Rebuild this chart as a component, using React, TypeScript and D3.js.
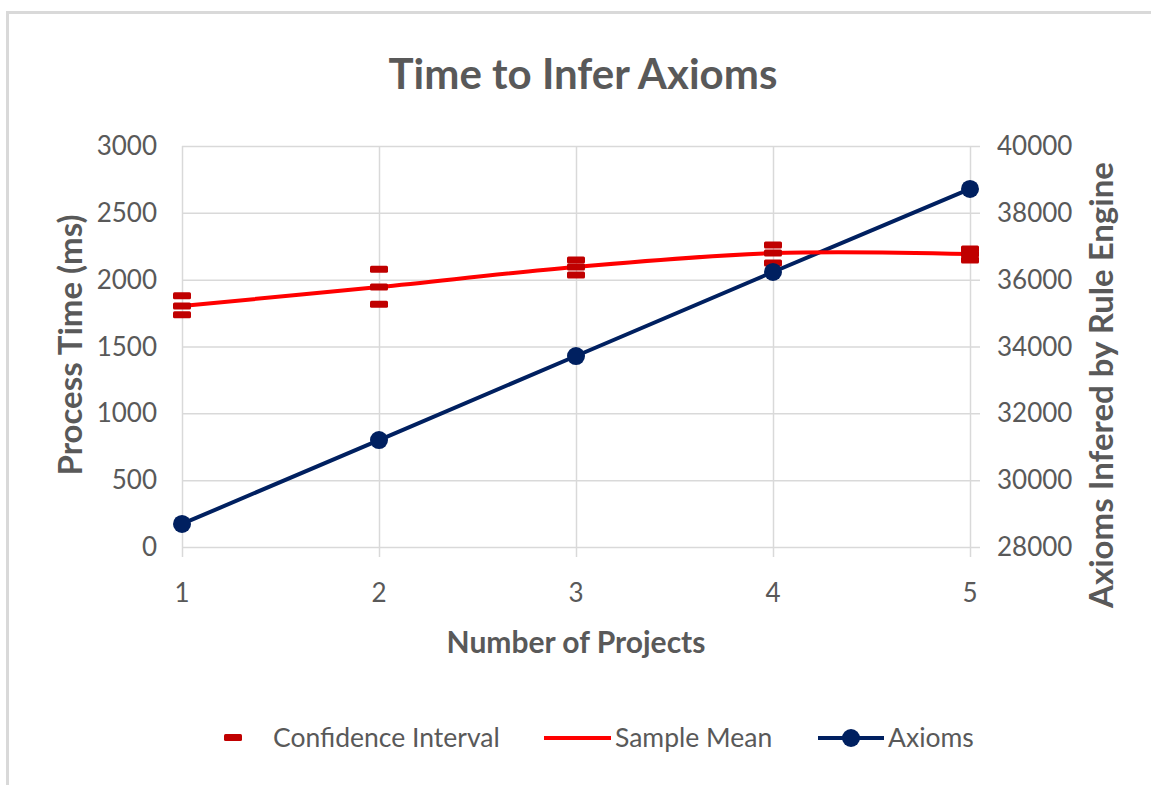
import React, { useEffect, useRef } from 'react';
import * as d3 from 'd3';

// Chart data
const projects = [1, 2, 3, 4, 5];
const sampleMean = [1803, 1945, 2095, 2199, 2192];
const ciUpper = [1880, 2077, 2147, 2259, 2229];
const ciLower = [1738, 1816, 2035, 2125, 2147];
const axioms = [28690, 31200, 33715, 36230, 38715];
const leftTicks = [0, 500, 1000, 1500, 2000, 2500, 3000];
const rightTicks = [28000, 30000, 32000, 34000, 36000, 38000, 40000];

const FONT = 'Lato, "Open Sans", sans-serif';
const GREY = '#595959';
const RED = '#ff0000';
const DARK_RED = '#c00000';
const NAVY = '#002060';

export default function App() {
  const ref = useRef<SVGSVGElement>(null);

  useEffect(() => {
    const svg = d3.select(ref.current);
    svg.selectAll('*').remove();

    const width = 1151;
    const height = 785;

    // Frame
    svg
      .append('rect')
      .attr('x', 7.5)
      .attr('y', 12.5)
      .attr('width', width + 20)
      .attr('height', height + 20)
      .attr('fill', '#fff')
      .attr('stroke', '#d9d9d9')
      .attr('stroke-width', 3);

    // Scales
    const x = d3.scaleLinear().domain([1, 5]).range([182, 970]);
    const yLeft = d3.scaleLinear().domain([0, 3000]).range([547, 146]);
    const yRight = d3.scaleLinear().domain([28000, 40000]).range([547, 146]);

    // Grid
    const grid = svg.append('g').attr('class', 'grid');
    grid
      .selectAll('.h')
      .data(leftTicks)
      .enter()
      .append('line')
      .attr('x1', x(1))
      .attr('x2', x(5) + 10)
      .attr('y1', d => yLeft(d) + 0.5)
      .attr('y2', d => yLeft(d) + 0.5)
      .attr('stroke', '#d9d9d9')
      .attr('stroke-width', 1.5);

    grid
      .selectAll('.v')
      .data(projects)
      .enter()
      .append('line')
      .attr('x1', d => x(d) + 0.5)
      .attr('x2', d => x(d) + 0.5)
      .attr('y1', yLeft(3000))
      .attr('y2', yLeft(0) + 10)
      .attr('stroke', '#d9d9d9')
      .attr('stroke-width', 1.5);

    const tickStyle = (sel: any) =>
      sel
        .style('font-family', FONT)
        .style('font-size', '26px')
        .style('fill', GREY);

    // Left axis labels
    svg
      .append('g')
      .selectAll('text')
      .data(leftTicks)
      .enter()
      .append('text')
      .attr('x', 157)
      .attr('y', d => yLeft(d) + 9)
      .attr('text-anchor', 'end')
      .call(tickStyle)
      .text(d => d);

    // Right axis labels
    svg
      .append('g')
      .selectAll('text')
      .data(rightTicks)
      .enter()
      .append('text')
      .attr('x', 997)
      .attr('y', d => yRight(d) + 9)
      .call(tickStyle)
      .text(d => d);

    // X axis labels
    svg
      .append('g')
      .selectAll('text')
      .data(projects)
      .enter()
      .append('text')
      .attr('x', d => x(d))
      .attr('y', 602)
      .attr('text-anchor', 'middle')
      .call(tickStyle)
      .text(d => d);

    // Title + axis titles
    const titleStyle = (sel: any, size: number) =>
      sel
        .attr('text-anchor', 'middle')
        .style('font-family', FONT)
        .style('font-size', `${size}px`)
        .style('font-weight', 'bold')
        .style('fill', GREY);

    svg
      .append('text')
      .attr('x', 583)
      .attr('y', 89)
      .call(titleStyle, 42)
      .text('Time to Infer Axioms');

    svg
      .append('text')
      .attr('x', 576)
      .attr('y', 653)
      .call(titleStyle, 30)
      .text('Number of Projects');

    svg
      .append('text')
      .attr('transform', 'translate(82,345) rotate(-90)')
      .call(titleStyle, 33)
      .text('Process Time (ms)');

    svg
      .append('text')
      .attr('transform', 'translate(1113,385) rotate(-90)')
      .call(titleStyle, 33)
      .text('Axioms Infered by Rule Engine');

    // Axioms line (right axis)
    const axLine = d3
      .line<number>()
      .x((d, i) => x(projects[i]))
      .y(d => yRight(d));

    svg
      .append('path')
      .datum(axioms)
      .attr('d', axLine)
      .attr('fill', 'none')
      .attr('stroke', NAVY)
      .attr('stroke-width', 4);

    // Sample mean, smoothed
    const meanLine = d3
      .line<number>()
      .x((d, i) => x(projects[i]))
      .y(d => yLeft(d))
      .curve(d3.curveCatmullRom.alpha(0.5));

    svg
      .append('path')
      .datum(sampleMean)
      .attr('d', meanLine)
      .attr('fill', 'none')
      .attr('stroke', RED)
      .attr('stroke-width', 4);

    // Confidence interval dashes (upper, mean, lower)
    const ciPoints = projects.flatMap((p, i) => [
      { p, v: ciUpper[i] },
      { p, v: sampleMean[i] },
      { p, v: ciLower[i] },
    ]);

    svg
      .append('g')
      .selectAll('rect')
      .data(ciPoints)
      .enter()
      .append('rect')
      .attr('x', d => x(d.p) - 9)
      .attr('y', d => yLeft(d.v) - 3.5)
      .attr('width', 18)
      .attr('height', 7)
      .attr('rx', 1.5)
      .attr('fill', DARK_RED);

    // Axioms markers
    svg
      .append('g')
      .selectAll('circle')
      .data(axioms)
      .enter()
      .append('circle')
      .attr('cx', (d, i) => x(projects[i]))
      .attr('cy', d => yRight(d))
      .attr('r', 9)
      .attr('fill', NAVY);

    // Legend
    const legend = svg.append('g').attr('class', 'legend');
    const ly = 738;

    legend
      .append('rect')
      .attr('x', 224)
      .attr('y', ly - 4)
      .attr('width', 18)
      .attr('height', 7)
      .attr('rx', 1.5)
      .attr('fill', DARK_RED);

    legend
      .append('line')
      .attr('x1', 544)
      .attr('x2', 611)
      .attr('y1', ly)
      .attr('y2', ly)
      .attr('stroke', RED)
      .attr('stroke-width', 4);

    legend
      .append('line')
      .attr('x1', 818)
      .attr('x2', 884)
      .attr('y1', ly)
      .attr('y2', ly)
      .attr('stroke', NAVY)
      .attr('stroke-width', 4);

    legend
      .append('circle')
      .attr('cx', 851)
      .attr('cy', ly)
      .attr('r', 9)
      .attr('fill', NAVY);

    const legendItems = [
      { label: 'Confidence Interval', x: 273 },
      { label: 'Sample Mean', x: 615 },
      { label: 'Axioms', x: 888 },
    ];

    legend
      .selectAll('text')
      .data(legendItems)
      .enter()
      .append('text')
      .attr('x', d => d.x)
      .attr('y', ly + 9)
      .style('font-family', FONT)
      .style('font-size', '26.5px')
      .style('fill', GREY)
      .text(d => d.label);
  }, []);

  return (
    <div style={{ position: 'fixed', left: 0, top: 0 }}>
      <svg ref={ref} width={1151} height={785} style={{ display: 'block' }} />
    </div>
  );
}
